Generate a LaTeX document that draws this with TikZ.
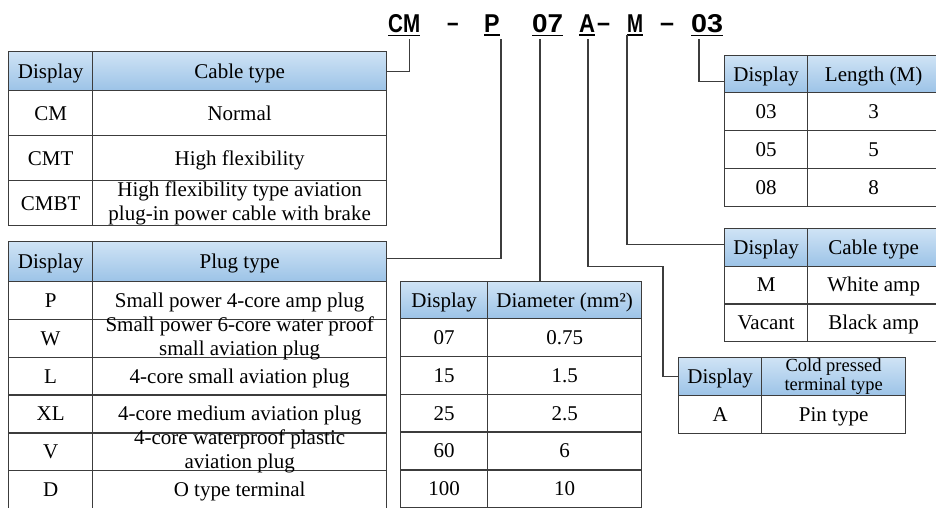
\documentclass[tikz,border=0pt]{standalone}
\usepackage{fontspec}
\setmainfont{Liberation Serif}
\newfontfamily\codefont{Liberation Sans}
\usepackage{graphicx}
\definecolor{gridgray}{HTML}{3C3C3C}
\definecolor{hdtop}{HTML}{CFE3F5}
\definecolor{hdbot}{HTML}{9CC3E7}
\newcommand{\tabfont}{\fontsize{21}{24}\selectfont}
\newcommand{\termfont}{\fontsize{18.5}{19.5}\selectfont}
\newcommand{\codepiece}[2]{\resizebox{#1pt}{\height}{#2}}
\newcommand{\codedash}[1]{\resizebox{#1pt}{\height}{\raisebox{1pt}{–}}}

\tikzset{
  cell/.style={draw=gridgray, line width=1.3pt, inner sep=0pt, anchor=north west},
  hdr/.style={cell, top color=hdtop, bottom color=hdbot},
  txt/.style={font=\tabfont, inner sep=0pt, text height=13.8pt, text depth=0pt},
  txttwo/.style={font=\tabfont, inner sep=0pt, align=center},
  code/.style={font=\codefont\bfseries\fontsize{25.8}{26}\selectfont, inner xsep=0pt, inner ysep=3pt, anchor=base west},
  uline/.style={line width=1.8pt},
  leader/.style={draw=gridgray, line width=1.2pt},
}

\begin{document}
\begin{tikzpicture}[x=1pt, y=-1pt]
  \useasboundingbox (0,0) rectangle (936,507);
  \fill[white] (0,0) rectangle (936,507);
  \clip (0,0) rectangle (936,507);

  % order code
  \node[code] (cCM) at (388,32) {\codepiece{32}{CM}};
  \node[code] (dash1) at (447,32) {\codedash{11.5}};
  \node[code] (cP) at (484,32) {\codepiece{15.5}{P}};
  \node[code] (c07) at (532,32) {\codepiece{31}{07}};
  \node[code] (cA) at (579,32) {\codepiece{16}{A}};
  \node[code] (dash2) at (597,32) {\codedash{13}};
  \node[code] (cM) at (627,32) {\codepiece{16}{M}};
  \node[code] (dash3) at (660,32) {\codedash{14}};
  \node[code] (c03) at (691,32) {\codepiece{32}{03}};
  \foreach \c in {cCM,cP,c07,cA,cM,c03}
    \draw[uline] (\c.south west) -- (\c.south east);

  % cable type
  \node[hdr, minimum width=84, minimum height=39, label={[txt]center:Display}] (cabh1) at (8,51) {};
  \node[hdr, minimum width=294, minimum height=39, label={[txt]center:Cable type}] (cabh2) at (92,51) {};
  \foreach \i/\d/\t in {1/CM/Normal, 2/CMT/High flexibility}{
    \pgfmathsetmacro\yy{45+45*\i}
    \node[cell, minimum width=84, minimum height=45, label={[txt]center:\d}] (cab\i-d) at (8,\yy) {};
    \node[cell, minimum width=294, minimum height=45, label={[txt]center:\t}] (cab\i-t) at (92,\yy) {};
  }
  \node[cell, minimum width=84, minimum height=45, label={[txt]center:CMBT}] (cab3-d) at (8,180) {};
  \node[cell, minimum width=294, minimum height=45,
    label={[txttwo]center:High flexibility type aviation\\plug-in power cable with brake}] (cab3-t) at (92,180) {};

  % plug type
  \node[hdr, minimum width=84, minimum height=40, label={[txt]center:Display}] (plugh1) at (8,241) {};
  \node[hdr, minimum width=294, minimum height=40, label={[txt]center:Plug type}] (plugh2) at (92,241) {};
  \foreach \i/\d/\t in {1/P/Small power 4-core amp plug, 3/L/4-core small aviation plug,
      4/XL/4-core medium aviation plug, 6/D/O type terminal}{
    \pgfmathsetmacro\yy{243.2+37.8*\i}
    \node[cell, minimum width=84, minimum height=37.8, label={[txt]center:\d}] (plug\i-d) at (8,\yy) {};
    \node[cell, minimum width=294, minimum height=37.8, label={[txt]center:\t}] (plug\i-t) at (92,\yy) {};
  }
  \node[cell, minimum width=84, minimum height=37.8, label={[txt]center:W}] (plug2-d) at (8,318.8) {};
  \node[cell, minimum width=294, minimum height=37.8,
    label={[txttwo]center:Small power 6-core water proof\\small aviation plug}] (plug2-t) at (92,318.8) {};
  \node[cell, minimum width=84, minimum height=37.8, label={[txt]center:V}] (plug5-d) at (8,432.2) {};
  \node[cell, minimum width=294, minimum height=37.8,
    label={[txttwo]center:4-core waterproof plastic\\aviation plug}] (plug5-t) at (92,432.2) {};

  % diameter
  \node[hdr, minimum width=87, minimum height=37, label={[txt]center:Display}] (diah1) at (400,281) {};
  \node[hdr, minimum width=154, minimum height=37, label={[txt]center:Diameter (mm²)}] (diah2) at (487,281) {};
  \foreach \i/\d/\t in {1/07/0.75, 2/15/1.5, 3/25/2.5, 4/60/6, 5/100/10}{
    \pgfmathsetmacro\yy{280.2+37.8*\i}
    \node[cell, minimum width=87, minimum height=37.8, label={[txt]center:\d}] (dia\i-d) at (400,\yy) {};
    \node[cell, minimum width=154, minimum height=37.8, label={[txt]center:\t}] (dia\i-t) at (487,\yy) {};
  }

  % length
  \node[hdr, minimum width=83, minimum height=37, label={[txt]center:Display}] (lenh1) at (724,55) {};
  \node[hdr, minimum width=132, minimum height=37, label={[txt]center:Length (M)}] (lenh2) at (807,55) {};
  \foreach \i/\d/\t in {1/03/3, 2/05/5, 3/08/8}{
    \pgfmathsetmacro\yy{54+38*\i}
    \node[cell, minimum width=83, minimum height=38, label={[txt]center:\d}] (len\i-d) at (724,\yy) {};
    \node[cell, minimum width=132, minimum height=38, label={[txt]center:\t}] (len\i-t) at (807,\yy) {};
  }

  % amp cable type
  \node[hdr, minimum width=83, minimum height=37.5, label={[txt]center:Display}] (amph1) at (724,228) {};
  \node[hdr, minimum width=132, minimum height=37.5, label={[txt]center:Cable type}] (amph2) at (807,228) {};
  \foreach \i/\d/\t in {1/M/White amp, 2/Vacant/Black amp}{
    \pgfmathsetmacro\yy{227.8+37.7*\i}
    \node[cell, minimum width=83, minimum height=37.7, label={[txt]center:\d}] (amp\i-d) at (724,\yy) {};
    \node[cell, minimum width=132, minimum height=37.7, label={[txt]center:\t}] (amp\i-t) at (807,\yy) {};
  }

  % terminal
  \node[hdr, minimum width=83, minimum height=38, label={[txt]center:Display}] (termh1) at (678,357) {};
  \node[hdr, minimum width=144, minimum height=38,
    label={[txttwo, font=\termfont]center:Cold pressed\\terminal type}] (termh2) at (761,357) {};
  \node[cell, minimum width=83, minimum height=37.5, label={[txt]center:A}] (term1-d) at (678,395) {};
  \node[cell, minimum width=144, minimum height=37.5, label={[txt]center:Pin type}] (term1-t) at (761,395) {};

  % leaders
  \coordinate (l07) at ([xshift=8pt,yshift=-4pt]c07.south west);
  \draw[leader] ([xshift=5pt,yshift=-4pt]cCM.south) |- (cabh2.east);
  \draw[leader] ([xshift=1pt,yshift=-4pt]cP.south east) |- ([yshift=3pt]plugh2.east);
  \draw[leader] (l07) -- (l07 |- diah2.north);
  \draw[leader] ([xshift=9pt,yshift=-4pt]cA.south west) -- ++(0,227) -| ([xshift=-15pt]termh1.west) -- (termh1.west);
  \draw[leader] (cM.south west) |- ([yshift=3pt]amph1.west);
  \draw[leader] ([xshift=8pt,yshift=-4pt]c03.south west) |- ([yshift=-7pt]lenh1.west);
\end{tikzpicture}
\end{document}
